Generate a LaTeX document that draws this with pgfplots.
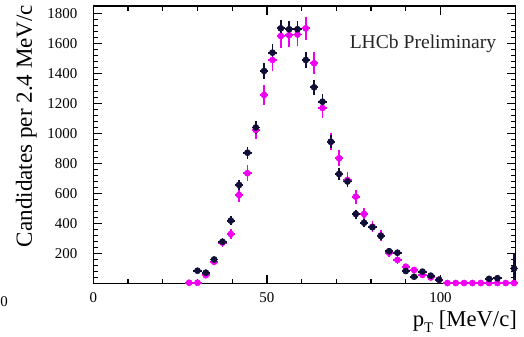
\documentclass[border=0pt]{standalone}
\usepackage{fontspec}
\setmainfont{Liberation Serif}
\usepackage{pgfplots}
\pgfplotsset{compat=1.18}
\usepackage{pgfplotstable}
\definecolor{dk}{RGB}{15,15,55}
\definecolor{mg}{RGB}{240,0,240}

\pgfplotstableread{
x y ex ey
30.0 85 1.2 13
32.4 72 1.2 12
34.8 160 1.2 18
37.2 278 1.2 23
39.6 419 1.2 29
42.0 657 1.2 36
44.4 872 1.2 41
46.8 1040 1.2 45
49.2 1417 1.2 53
51.6 1539 1.2 55
54.0 1701 1.2 58
56.4 1695 1.2 58
58.8 1695 1.2 58
61.2 1490 1.2 54
63.6 1308 1.2 51
66.0 1212 1.2 49
68.4 945 1.2 43
70.8 730 1.2 38
73.2 680 1.2 37
75.6 463 1.2 30
78.0 405 1.2 28
80.4 375 1.2 27
82.8 317 1.2 25
85.2 215 1.2 21
87.6 205 1.2 20
90.0 83 1.2 13
92.4 45 1.2 9
94.8 79 1.2 12
97.2 52 1.2 10
99.6 25 1.2 7
114.0 31 1.2 8
116.4 35 1.2 8
121.2 100 1.2 100
}\darkdata

\pgfplotstableread{
x y ex ey
27.6 5 1.2 4
30.0 5 1.2 4
32.4 55 1.2 14
34.8 145 1.2 23
37.2 272 1.2 31
39.6 330 1.2 35
42.0 590 1.2 46
44.4 735 1.2 52
46.8 1023 1.2 61
49.2 1257 1.2 67
51.6 1490 1.2 73
54.0 1650 1.2 77
56.4 1655 1.2 77
58.8 1660 1.2 77
61.2 1701 1.2 78
63.6 1468 1.2 73
66.0 1170 1.2 65
68.4 945 1.2 58
70.8 835 1.2 55
73.2 690 1.2 50
75.6 579 1.2 46
78.0 463 1.2 41
80.4 378 1.2 37
82.8 320 1.2 34
85.2 205 1.2 27
87.6 157 1.2 24
90.0 112 1.2 20
92.4 90 1.2 18
94.8 57 1.2 14
97.2 40 1.2 12
99.6 25 1.2 9
102.0 3 1.2 3
104.4 3 1.2 3
106.8 3 1.2 3
109.2 3 1.2 3
111.6 3 1.2 3
114.0 3 1.2 3
116.4 3 1.2 3
118.8 3 1.2 3
121.2 3 1.2 3
}\magdata

\begin{document}
\begin{tikzpicture}
\begin{axis}[
  name=ax,
  scale only axis,
  width=316.6pt, height=208.1pt,
  xmin=0, xmax=121.6,
  ymin=0, ymax=1850,
  xtick={0,50,100},
  minor x tick num=4,
  ytick={0,200,400,600,800,1000,1200,1400,1600,1800},
  yticklabels={,200,400,600,800,1000,1200,1400,1600,1800},
  minor y tick num=4,
  tick align=inside,
  major tick length=6.5pt,
  minor tick length=3.5pt,
  axis line style={line width=1.1pt},
  every tick/.style={black, line width=0.9pt},
  /pgf/number format/assume math mode=true,
  /pgf/number format/1000 sep={},
  ticklabel style={font=\fontsize{11.2}{13}\selectfont},
  yticklabel style={xshift=-8.5pt},
  xticklabel style={yshift=-3pt},
  xlabel={p\raisebox{-0.55ex}{\fontsize{11}{12}\selectfont T} [MeV/c]},
  xlabel style={at={(axis description cs:1.004,-0.097)}, anchor=north east, inner sep=0pt, font=\fontsize{17}{20}\selectfont},
  ylabel={Candidates per 2.4 MeV/c},
  ylabel style={at={(axis description cs:-0.1333,1.005)}, anchor=south east, inner sep=0pt, font=\fontsize{17.3}{20}\selectfont},
  clip=false,
]
\addplot+[only marks, mark=*, mark size=2.3pt, color=mg, mark options={fill=mg, draw=mg},
  error bars/.cd, x dir=both, x explicit, y dir=both, y explicit, error mark=none,
  error bar style={line width=1.4pt, mg}]
  table[x=x, y=y, x error=ex, y error=ey] {\magdata};
\addplot+[only marks, mark=*, mark size=2.3pt, color=dk, mark options={fill=dk, draw=dk},
  error bars/.cd, x dir=both, x explicit, y dir=both, y explicit, error mark=none,
  error bar style={line width=1.4pt, dk}]
  table[x=x, y=y, x error=ex, y error=ey] {\darkdata};
\node[anchor=base east, inner sep=0pt, font=\fontsize{14.7}{17}\selectfont, text=black!85]
  at (axis description cs:0.955,0.848) {LHCb Preliminary};
\node[anchor=center, inner sep=0pt, font=\fontsize{11.2}{13}\selectfont]
  at (axis description cs:-0.2115,-0.0667) {0};
\end{axis}
\pgfresetboundingbox
\path[use as bounding box] ([shift={(-70pt,-39.4pt)}]ax.south west) rectangle ([shift={(6.4pt,4.5pt)}]ax.north east);
\end{tikzpicture}
\end{document}
